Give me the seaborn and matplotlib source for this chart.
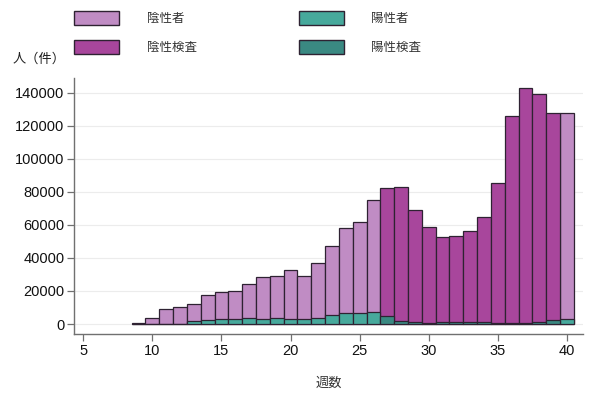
import pandas as pd
import matplotlib.pyplot as plt
import seaborn as sns
from matplotlib.patches import Patch

# weekly data
weeks = list(range(9, 41))
tests = [400, 3800, 8900, 10100, 11900, 17300, 19600, 20000, 24200, 28400,
         28800, 32900, 29000, 37100, 47400, 58300, 61700, 75000, 82300, 82900,
         69200, 58900, 52800, 53500, 56300, 65000, 85100, 126100, 142600, 139200,
         127700, 127700]
positives = [0, 200, 300, 300, 1800, 2600, 3200, 3200, 3600, 3200,
             3400, 3200, 3200, 3600, 5600, 6700, 6700, 7100, 5000, 1800,
             1000, 800, 1000, 1400, 1400, 1200, 600, 800, 800, 1400,
             2400, 3000]
# counting basis: persons (者) or tests (検査)
basis = ['者'] * 18 + ['検査'] * 13 + ['者']

neg_colors = {'者': '#c08cc4', '検査': '#a8469c'}
pos_colors = {'者': '#47a99c', '検査': '#3a8982'}
edge = '#2e2232'

df = pd.DataFrame({'week': weeks, 'tests': tests, 'positives': positives,
                   'basis': basis})

sns.set_style('ticks')
plt.rcParams['font.family'] = ['Liberation Sans', 'Noto Sans CJK JP']

fig = plt.figure(figsize=(6.02, 3.94), dpi=100)
ax = fig.add_axes([74 / 602, 60 / 394, 509 / 602, 256 / 394])

sns.barplot(data=df, x='week', y='tests', hue='basis', palette=neg_colors,
            native_scale=True, dodge=False, width=1, errorbar=None,
            saturation=1, edgecolor=edge, linewidth=0.9, legend=False, ax=ax)
sns.barplot(data=df, x='week', y='positives', hue='basis', palette=pos_colors,
            native_scale=True, dodge=False, width=1, errorbar=None,
            saturation=1, edgecolor=edge, linewidth=0.9, legend=False, ax=ax)

ax.set_xlim(4.33, 41.16)
ax.set_ylim(-6050, 148900)
ax.set_xticks(range(5, 41, 5))
ax.set_yticks(range(0, 140001, 20000))
ax.yaxis.grid(True, color='#ececec', linewidth=0.8)
ax.set_axisbelow(True)
for s in ['top', 'right']:
    ax.spines[s].set_visible(False)
for s in ['left', 'bottom']:
    ax.spines[s].set_color('#707070')
    ax.spines[s].set_linewidth(1.0)
ax.tick_params(axis='both', direction='out', length=5, width=0.9,
               left=True, bottom=True, color='#707070', labelsize=10.5,
               labelcolor='#111111', pad=2)
ax.set_ylabel('')
ax.set_xlabel('週数', fontsize=9.5, color='#333333', labelpad=14,
              family=['Noto Sans CJK JP'])

fig.text(13 / 602, 1 - 59 / 394, '人（件）', fontsize=9.5, va='center',
         family=['Noto Sans CJK JP'], color='#222222')

handles = [Patch(facecolor=neg_colors['者'], edgecolor=edge, label='陰性者'),
           Patch(facecolor=neg_colors['検査'], edgecolor=edge, label='陰性検査'),
           Patch(facecolor=pos_colors['者'], edgecolor=edge, label='陽性者'),
           Patch(facecolor=pos_colors['検査'], edgecolor=edge, label='陽性検査')]
leg = fig.legend(handles=handles, ncol=2, loc='upper left',
                 bbox_to_anchor=(74 / 602, 1 - 11 / 394), frameon=False,
                 borderpad=0, borderaxespad=0, handlelength=3.6, handleheight=1.3,
                 handletextpad=2.2, columnspacing=8.2, labelspacing=1.2,
                 prop={'family': ['Noto Sans CJK JP'], 'size': 9})
for t in leg.get_texts():
    t.set_color('#333333')

fig.savefig('out.png', dpi=100)
